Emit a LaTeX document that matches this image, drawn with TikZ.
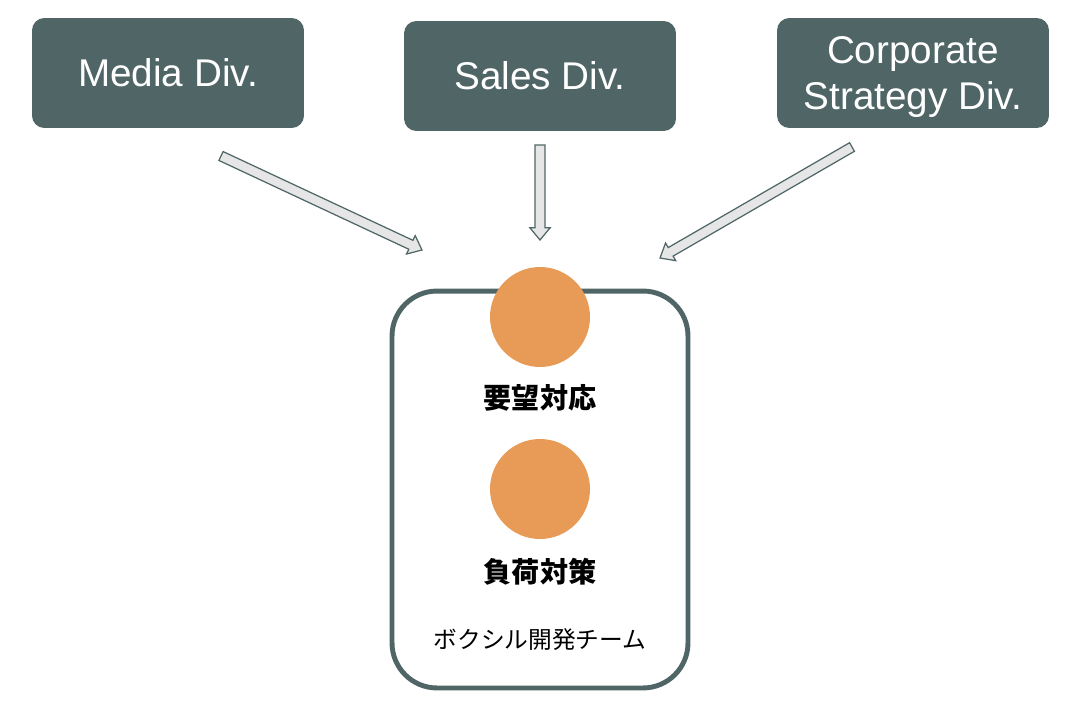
\documentclass[tikz,border=0pt]{standalone}
\usepackage{fontspec}
\setmainfont{Liberation Sans}
\newfontfamily\jpfont{Noto Sans CJK JP}
\usetikzlibrary{positioning,calc}

\definecolor{slate}{RGB}{79,101,102}
\definecolor{peach}{RGB}{232,155,86}
\definecolor{arrowgray}{RGB}{230,230,230}

% block arrow from #1 to #2 (shaft, then head)
\newcommand{\blockarrow}[2]{%
  \coordinate (hb) at ($(#2)!7pt!(#1)$);
  \draw[barrow] ($(#1)!2.8pt!90:(#2)$) -- ($(hb)!2.8pt!90:(#2)$) -- ($(hb)!5.8pt!90:(#2)$)
    -- (#2) -- ($(hb)!5.8pt!-90:(#2)$) -- ($(hb)!2.8pt!-90:(#2)$)
    -- ($(#1)!2.8pt!-90:(#2)$) -- cycle;
}

\begin{document}
\begin{tikzpicture}[
  x=0.02cm, y=-0.02cm,
  div/.style={rounded corners=7pt, fill=slate, text=white, align=center,
              minimum width=5.44cm, minimum height=2.2cm, inner sep=2pt,
              font=\fontsize{22}{26.5}\selectfont},
  team/.style={rounded corners=0.9cm, draw=slate, line width=2.8pt,
               minimum width=5.92cm, minimum height=7.94cm},
  dot/.style={circle, fill=peach, minimum size=2cm, inner sep=0pt},
  task/.style={font=\jpfont\bfseries\fontsize{16}{18}\selectfont},
  barrow/.style={fill=arrowgray, draw=slate, line width=0.7pt, line join=miter},
]
\useasboundingbox (0,0) rectangle (1074,706);

% ---- divisions (top row) ----
\node[div] (media) at (168,73) {Media Div.};
\node[div] (sales) at (540,76) {Sales Div.};
\node[div, text depth=0pt] (corp) at (913,73) {Corporate\\Strategy Div.};

% ---- development team ----
\node[team] (team) at (540,489.5) {};
\node[dot] (reqdot)  at (540,317) {};
\node[dot] (loaddot) at (540,489) {};
\node[task] (reqlbl)  at (540,398) {要望対応};
\node[task] (loadlbl) at (540,572) {負荷対策};
\node[font=\jpfont\fontsize{13.5}{16}\selectfont] (teamlbl) at (540,640) {ボクシル開発チーム};

% ---- requests into the team ----
\coordinate (mediaout) at (221,156);
\coordinate (mediain)  at (422,250);
\coordinate (salesout) at (540,145);
\coordinate (salesin)  at (540,240);
\coordinate (corpout)  at (852,147);
\coordinate (corpin)   at (660,258);
\blockarrow{mediaout}{mediain}
\blockarrow{salesout}{salesin}
\blockarrow{corpout}{corpin}
\end{tikzpicture}
\end{document}
